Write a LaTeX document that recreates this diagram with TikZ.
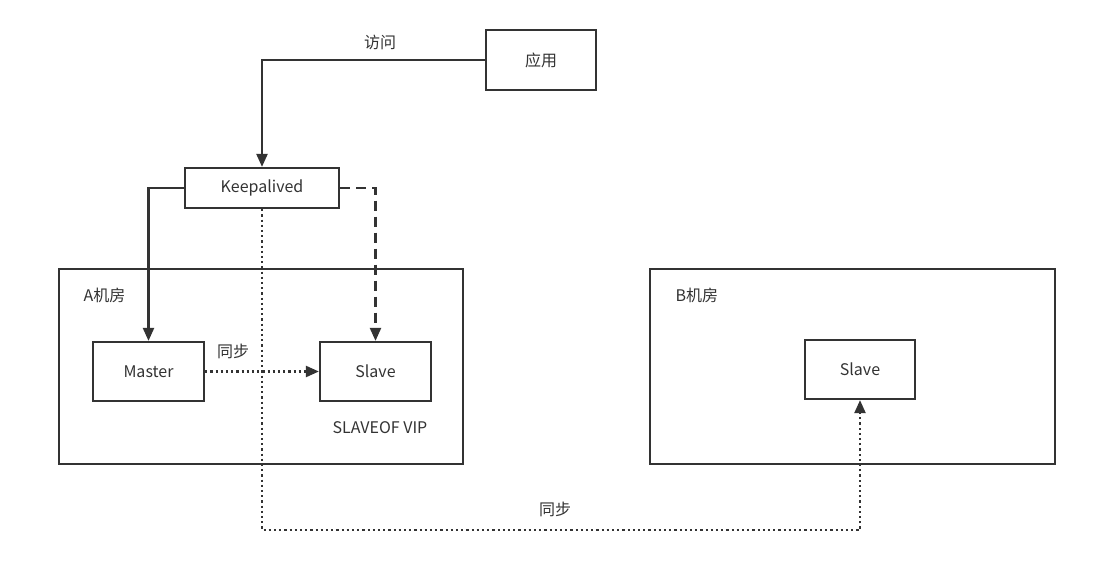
\documentclass[tikz,border=0pt]{standalone}
\usepackage{fontspec}
\setmainfont{Noto Sans CJK SC}
\usetikzlibrary{arrows.meta}
\definecolor{ink}{HTML}{333333}
\begin{document}
\begin{tikzpicture}[x=1pt,y=-1pt,
  box/.style={draw=ink,line width=2.2pt,minimum width=#1,minimum height=59pt,inner sep=0pt,font=\fontsize{16}{19}\selectfont,text=ink},
  room/.style={draw=ink,line width=2.2pt},
  lbl/.style={font=\fontsize{16}{19}\selectfont,text=ink},
  conn/.style={draw=ink,line width=2.2pt,-{Triangle[length=13pt,width=11pt]}},
  dotline/.style={conn,dash pattern=on 2.2pt off 3pt},
  dashline/.style={conn,dash pattern=on 10pt off 6pt}]
\useasboundingbox (0,0) rectangle (1115,580);
\draw[room] (59,269) rectangle (463,464);
\draw[room] (650,269) rectangle (1055,464);
\node[lbl,anchor=west] (la) at (80,295) {A机房};
\node[lbl,anchor=west] (lb) at (672,295) {B机房};
\node[box=110pt,minimum height=60pt] (app) at (541,60) {应用};
\node[box=154pt,minimum height=40pt] (kp) at (262,188) {Keepalived};
\node[box=111pt] (master) at (148.5,371.5) {Master};
\node[box=111pt] (slavea) at (375.5,371.5) {Slave};
\node[box=110pt] (slaveb) at (860,369.5) {Slave};
\node[lbl] (svip) at (380,428) {SLAVEOF VIP};
\node[lbl] (l1) at (380,42) {访问};
\node[lbl] (l2) at (233,351) {同步};
\node[lbl] (l3) at (555,509) {同步};
\draw[conn] (app.west) -| (kp.north);
\draw[conn] (kp.west) -| (master.north);
\draw[dashline] (kp.east) -| (slavea.north);
\draw[dotline] (master.east) -- (slavea.west);
\coordinate (c1) at (262,530);
\draw[dotline] (kp.south) -- (c1) -| (slaveb.south);
\end{tikzpicture}
\end{document}
